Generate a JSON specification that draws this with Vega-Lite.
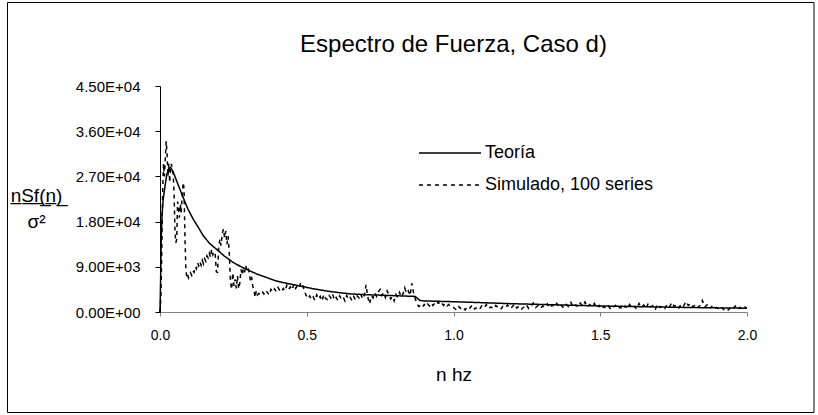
{
  "$schema": "https://vega.github.io/schema/vega-lite/v6.json",
  "width": 587,
  "height": 226,
  "autosize": {"type": "none"},
  "padding": {"left": 160, "top": 86, "right": 71, "bottom": 103},
  "background": "white",
  "config": {"font": "Liberation Sans", "view": {"stroke": null}},
  "title": {"text": "Espectro de Fuerza, Caso d)", "fontSize": 24, "fontWeight": "normal", "anchor": "middle", "frame": "group", "color": "black", "offset": 0, "baseline": "alphabetic", "dy": 74},
  "layer": [
    {
      "data": {"values": [
        {"s":"T","n":0,"v":0},{"s":"T","n":0.002,"v":6000},{"s":"T","n":0.004,"v":14000},{"s":"T","n":0.007,"v":19500},{"s":"T","n":0.011,"v":22500},{"s":"T","n":0.017,"v":25000},{"s":"T","n":0.023,"v":27300},{"s":"T","n":0.03,"v":28600},{"s":"T","n":0.036,"v":28800},{"s":"T","n":0.045,"v":27900},{"s":"T","n":0.06,"v":25600},{"s":"T","n":0.079,"v":22800},{"s":"T","n":0.095,"v":20500},{"s":"T","n":0.114,"v":18400},{"s":"T","n":0.13,"v":16900},{"s":"T","n":0.148,"v":15130},{"s":"T","n":0.17,"v":13600},{"s":"T","n":0.193,"v":12480},{"s":"T","n":0.22,"v":11100},{"s":"T","n":0.25,"v":9840},{"s":"T","n":0.28,"v":8900},{"s":"T","n":0.307,"v":8160},{"s":"T","n":0.335,"v":7450},{"s":"T","n":0.364,"v":6850},{"s":"T","n":0.39,"v":6300},{"s":"T","n":0.42,"v":5850},{"s":"T","n":0.45,"v":5500},{"s":"T","n":0.477,"v":5180},{"s":"T","n":0.52,"v":4650},{"s":"T","n":0.568,"v":4180},{"s":"T","n":0.61,"v":3850},{"s":"T","n":0.65,"v":3600},{"s":"T","n":0.7,"v":3450},{"s":"T","n":0.75,"v":3350},{"s":"T","n":0.8,"v":3250},{"s":"T","n":0.87,"v":3100},{"s":"T","n":0.885,"v":2300},{"s":"T","n":0.9,"v":2200},{"s":"T","n":1.0,"v":2050},{"s":"T","n":1.1,"v":1850},{"s":"T","n":1.2,"v":1650},{"s":"T","n":1.3,"v":1500},{"s":"T","n":1.4,"v":1350},{"s":"T","n":1.5,"v":1200},{"s":"T","n":1.6,"v":1100},{"s":"T","n":1.7,"v":1000},{"s":"T","n":1.8,"v":900},{"s":"T","n":1.9,"v":820},{"s":"T","n":2.0,"v":750},
        {"s":"S","n":0,"v":0},{"s":"S","n":0.003,"v":3000},{"s":"S","n":0.006,"v":12000},{"s":"S","n":0.009,"v":24000},{"s":"S","n":0.012,"v":29500},{"s":"S","n":0.015,"v":27000},{"s":"S","n":0.018,"v":30500},{"s":"S","n":0.021,"v":34000},{"s":"S","n":0.024,"v":31700},{"s":"S","n":0.027,"v":27000},{"s":"S","n":0.03,"v":29500},{"s":"S","n":0.033,"v":25800},{"s":"S","n":0.036,"v":28800},{"s":"S","n":0.039,"v":29500},{"s":"S","n":0.042,"v":28000},{"s":"S","n":0.045,"v":27500},{"s":"S","n":0.048,"v":23500},{"s":"S","n":0.051,"v":16000},{"s":"S","n":0.054,"v":13800},{"s":"S","n":0.057,"v":14500},{"s":"S","n":0.06,"v":22000},{"s":"S","n":0.063,"v":20500},{"s":"S","n":0.066,"v":18800},{"s":"S","n":0.069,"v":21500},{"s":"S","n":0.072,"v":19800},{"s":"S","n":0.075,"v":22500},{"s":"S","n":0.079,"v":25800},{"s":"S","n":0.082,"v":24500},{"s":"S","n":0.085,"v":15000},{"s":"S","n":0.088,"v":8800},{"s":"S","n":0.091,"v":7000},{"s":"S","n":0.094,"v":7500},{"s":"S","n":0.097,"v":6800},{"s":"S","n":0.1,"v":7200},{"s":"S","n":0.104,"v":7800},{"s":"S","n":0.108,"v":7300},{"s":"S","n":0.112,"v":8200},{"s":"S","n":0.116,"v":7900},{"s":"S","n":0.12,"v":9000},{"s":"S","n":0.124,"v":8600},{"s":"S","n":0.128,"v":9800},{"s":"S","n":0.132,"v":9200},{"s":"S","n":0.136,"v":10000},{"s":"S","n":0.14,"v":9300},{"s":"S","n":0.144,"v":10300},{"s":"S","n":0.148,"v":9600},{"s":"S","n":0.152,"v":10600},{"s":"S","n":0.156,"v":10100},{"s":"S","n":0.16,"v":11200},{"s":"S","n":0.164,"v":10800},{"s":"S","n":0.168,"v":11700},{"s":"S","n":0.172,"v":10900},{"s":"S","n":0.176,"v":12500},{"s":"S","n":0.18,"v":11400},{"s":"S","n":0.184,"v":12000},{"s":"S","n":0.188,"v":11600},{"s":"S","n":0.192,"v":8000},{"s":"S","n":0.196,"v":7900},{"s":"S","n":0.2,"v":12800},{"s":"S","n":0.204,"v":14500},{"s":"S","n":0.208,"v":13200},{"s":"S","n":0.212,"v":15600},{"s":"S","n":0.216,"v":16500},{"s":"S","n":0.22,"v":14800},{"s":"S","n":0.224,"v":16100},{"s":"S","n":0.228,"v":13500},{"s":"S","n":0.232,"v":15100},{"s":"S","n":0.236,"v":11800},{"s":"S","n":0.24,"v":6000},{"s":"S","n":0.244,"v":4500},{"s":"S","n":0.248,"v":7800},{"s":"S","n":0.252,"v":5200},{"s":"S","n":0.256,"v":6500},{"s":"S","n":0.26,"v":4700},{"s":"S","n":0.264,"v":7200},{"s":"S","n":0.268,"v":4600},{"s":"S","n":0.272,"v":5800},{"s":"S","n":0.276,"v":8500},{"s":"S","n":0.28,"v":7400},{"s":"S","n":0.284,"v":8700},{"s":"S","n":0.288,"v":7900},{"s":"S","n":0.292,"v":9200},{"s":"S","n":0.296,"v":8300},{"s":"S","n":0.3,"v":8800},{"s":"S","n":0.304,"v":7800},{"s":"S","n":0.308,"v":6200},{"s":"S","n":0.312,"v":7000},{"s":"S","n":0.316,"v":5200},{"s":"S","n":0.32,"v":4400},{"s":"S","n":0.324,"v":2900},{"s":"S","n":0.328,"v":4200},{"s":"S","n":0.332,"v":3400},
        {"s":"S","n":0.336,"v":3700},{"s":"S","n":0.342,"v":3500},{"s":"S","n":0.348,"v":4100},{"s":"S","n":0.354,"v":3600},{"s":"S","n":0.36,"v":4300},{"s":"S","n":0.366,"v":3900},{"s":"S","n":0.372,"v":3400},{"s":"S","n":0.378,"v":4500},{"s":"S","n":0.384,"v":4000},{"s":"S","n":0.39,"v":4600},{"s":"S","n":0.396,"v":4100},{"s":"S","n":0.402,"v":4900},{"s":"S","n":0.408,"v":4300},{"s":"S","n":0.414,"v":4000},{"s":"S","n":0.42,"v":4700},{"s":"S","n":0.426,"v":4200},{"s":"S","n":0.432,"v":5300},{"s":"S","n":0.438,"v":4500},{"s":"S","n":0.444,"v":5000},{"s":"S","n":0.45,"v":4400},{"s":"S","n":0.456,"v":5600},{"s":"S","n":0.462,"v":4700},{"s":"S","n":0.468,"v":5200},{"s":"S","n":0.474,"v":4800},{"s":"S","n":0.48,"v":5900},{"s":"S","n":0.486,"v":5400},{"s":"S","n":0.492,"v":4200},{"s":"S","n":0.498,"v":3300},{"s":"S","n":0.504,"v":2700},{"s":"S","n":0.51,"v":3200},{"s":"S","n":0.516,"v":2500},{"s":"S","n":0.522,"v":3000},{"s":"S","n":0.528,"v":2300},{"s":"S","n":0.534,"v":3400},{"s":"S","n":0.54,"v":2600},{"s":"S","n":0.546,"v":3100},{"s":"S","n":0.552,"v":2200},{"s":"S","n":0.558,"v":3500},{"s":"S","n":0.564,"v":2700},{"s":"S","n":0.57,"v":2500},{"s":"S","n":0.576,"v":3300},{"s":"S","n":0.582,"v":2800},{"s":"S","n":0.588,"v":3600},{"s":"S","n":0.594,"v":2400},{"s":"S","n":0.6,"v":2900},{"s":"S","n":0.606,"v":2300},{"s":"S","n":0.612,"v":3200},{"s":"S","n":0.618,"v":2600},{"s":"S","n":0.624,"v":3000},{"s":"S","n":0.63,"v":2200},{"s":"S","n":0.636,"v":3300},{"s":"S","n":0.642,"v":2500},{"s":"S","n":0.648,"v":2900},{"s":"S","n":0.654,"v":2300},
        {"s":"S","n":0.66,"v":3100},{"s":"S","n":0.666,"v":2400},{"s":"S","n":0.672,"v":3200},{"s":"S","n":0.678,"v":2800},{"s":"S","n":0.684,"v":3600},{"s":"S","n":0.69,"v":2600},{"s":"S","n":0.696,"v":3300},{"s":"S","n":0.702,"v":5400},{"s":"S","n":0.708,"v":3000},{"s":"S","n":0.714,"v":1600},{"s":"S","n":0.72,"v":3200},{"s":"S","n":0.726,"v":2800},{"s":"S","n":0.732,"v":3800},{"s":"S","n":0.738,"v":3100},{"s":"S","n":0.744,"v":4000},{"s":"S","n":0.75,"v":4500},{"s":"S","n":0.756,"v":3300},{"s":"S","n":0.762,"v":3900},{"s":"S","n":0.768,"v":2900},{"s":"S","n":0.774,"v":4200},{"s":"S","n":0.78,"v":3400},{"s":"S","n":0.786,"v":2600},{"s":"S","n":0.792,"v":3100},{"s":"S","n":0.798,"v":2200},{"s":"S","n":0.804,"v":3500},{"s":"S","n":0.81,"v":2900},{"s":"S","n":0.816,"v":3900},{"s":"S","n":0.822,"v":3000},{"s":"S","n":0.828,"v":3600},{"s":"S","n":0.834,"v":4800},{"s":"S","n":0.84,"v":3700},{"s":"S","n":0.846,"v":4200},{"s":"S","n":0.852,"v":3300},{"s":"S","n":0.858,"v":5700},{"s":"S","n":0.864,"v":3800},{"s":"S","n":0.87,"v":2600},{"s":"S","n":0.876,"v":1600},{"s":"S","n":0.882,"v":1100},{"s":"S","n":0.888,"v":1300},{"s":"S","n":0.894,"v":900},{"s":"S","n":0.9,"v":1500},{"s":"S","n":0.906,"v":1100},{"s":"S","n":0.912,"v":1600},{"s":"S","n":0.918,"v":1200},{"s":"S","n":0.924,"v":1800},{"s":"S","n":0.93,"v":1300},{"s":"S","n":0.936,"v":1700},{"s":"S","n":0.942,"v":1400},{"s":"S","n":0.948,"v":2000},{"s":"S","n":0.954,"v":1500},{"s":"S","n":0.96,"v":1800},{"s":"S","n":0.966,"v":1300},{"s":"S","n":0.972,"v":1700},{"s":"S","n":0.978,"v":1200},{"s":"S","n":0.984,"v":1500},{"s":"S","n":0.99,"v":1000},
        {"s":"S","n":1.0,"v":900},{"s":"S","n":1.008,"v":500},{"s":"S","n":1.016,"v":1200},{"s":"S","n":1.024,"v":700},{"s":"S","n":1.032,"v":1000},{"s":"S","n":1.04,"v":400},{"s":"S","n":1.048,"v":1100},{"s":"S","n":1.056,"v":800},{"s":"S","n":1.064,"v":1400},{"s":"S","n":1.072,"v":600},{"s":"S","n":1.08,"v":900},{"s":"S","n":1.088,"v":500},{"s":"S","n":1.096,"v":1200},{"s":"S","n":1.104,"v":800},{"s":"S","n":1.112,"v":1500},{"s":"S","n":1.12,"v":700},{"s":"S","n":1.128,"v":1000},{"s":"S","n":1.136,"v":600},{"s":"S","n":1.144,"v":1300},{"s":"S","n":1.152,"v":900},{"s":"S","n":1.16,"v":500},{"s":"S","n":1.168,"v":1100},{"s":"S","n":1.176,"v":800},{"s":"S","n":1.184,"v":1400},{"s":"S","n":1.192,"v":700},{"s":"S","n":1.2,"v":1000},{"s":"S","n":1.208,"v":1600},{"s":"S","n":1.216,"v":800},{"s":"S","n":1.224,"v":1200},{"s":"S","n":1.232,"v":600},{"s":"S","n":1.24,"v":1000},{"s":"S","n":1.248,"v":1500},{"s":"S","n":1.256,"v":700},{"s":"S","n":1.264,"v":1100},{"s":"S","n":1.272,"v":1800},{"s":"S","n":1.28,"v":900},{"s":"S","n":1.288,"v":1300},{"s":"S","n":1.296,"v":700},{"s":"S","n":1.304,"v":1200},{"s":"S","n":1.312,"v":900},{"s":"S","n":1.32,"v":1600},{"s":"S","n":1.328,"v":800},{"s":"S","n":1.336,"v":1400},{"s":"S","n":1.344,"v":1000},{"s":"S","n":1.352,"v":1700},{"s":"S","n":1.36,"v":900},{"s":"S","n":1.368,"v":1300},{"s":"S","n":1.376,"v":800},{"s":"S","n":1.384,"v":1500},{"s":"S","n":1.392,"v":1100},{"s":"S","n":1.4,"v":1900},{"s":"S","n":1.408,"v":900},{"s":"S","n":1.416,"v":1400},{"s":"S","n":1.424,"v":1000},{"s":"S","n":1.432,"v":1800},{"s":"S","n":1.44,"v":1200},{"s":"S","n":1.448,"v":2000},{"s":"S","n":1.456,"v":1000},{"s":"S","n":1.464,"v":1500},{"s":"S","n":1.472,"v":1100},{"s":"S","n":1.48,"v":1700},{"s":"S","n":1.488,"v":800},{"s":"S","n":1.496,"v":1300},
        {"s":"S","n":1.504,"v":600},{"s":"S","n":1.512,"v":1100},{"s":"S","n":1.52,"v":700},{"s":"S","n":1.528,"v":1200},{"s":"S","n":1.536,"v":500},{"s":"S","n":1.544,"v":900},{"s":"S","n":1.552,"v":1300},{"s":"S","n":1.56,"v":600},{"s":"S","n":1.568,"v":1000},{"s":"S","n":1.576,"v":500},{"s":"S","n":1.584,"v":1200},{"s":"S","n":1.592,"v":700},{"s":"S","n":1.6,"v":1500},{"s":"S","n":1.608,"v":800},{"s":"S","n":1.616,"v":1100},{"s":"S","n":1.624,"v":600},{"s":"S","n":1.632,"v":1700},{"s":"S","n":1.64,"v":900},{"s":"S","n":1.648,"v":1400},{"s":"S","n":1.656,"v":700},{"s":"S","n":1.664,"v":1800},{"s":"S","n":1.672,"v":1000},{"s":"S","n":1.68,"v":1300},{"s":"S","n":1.688,"v":600},{"s":"S","n":1.696,"v":1600},{"s":"S","n":1.704,"v":900},{"s":"S","n":1.712,"v":1200},{"s":"S","n":1.72,"v":700},{"s":"S","n":1.728,"v":1500},{"s":"S","n":1.736,"v":1000},{"s":"S","n":1.744,"v":1900},{"s":"S","n":1.752,"v":1100},{"s":"S","n":1.76,"v":1400},{"s":"S","n":1.768,"v":800},{"s":"S","n":1.776,"v":1600},{"s":"S","n":1.784,"v":1200},{"s":"S","n":1.792,"v":2100},{"s":"S","n":1.8,"v":1300},{"s":"S","n":1.808,"v":1700},{"s":"S","n":1.816,"v":1000},{"s":"S","n":1.824,"v":1500},{"s":"S","n":1.832,"v":900},{"s":"S","n":1.84,"v":1300},{"s":"S","n":1.848,"v":2300},{"s":"S","n":1.856,"v":1000},{"s":"S","n":1.864,"v":1400},{"s":"S","n":1.872,"v":700},{"s":"S","n":1.88,"v":1100},{"s":"S","n":1.888,"v":500},{"s":"S","n":1.896,"v":900},{"s":"S","n":1.904,"v":600},{"s":"S","n":1.912,"v":1000},{"s":"S","n":1.92,"v":500},{"s":"S","n":1.928,"v":800},{"s":"S","n":1.936,"v":400},{"s":"S","n":1.944,"v":900},{"s":"S","n":1.952,"v":600},{"s":"S","n":1.96,"v":1200},{"s":"S","n":1.968,"v":500},{"s":"S","n":1.976,"v":900},{"s":"S","n":1.984,"v":600},{"s":"S","n":1.992,"v":1000},{"s":"S","n":2.0,"v":700}
      ]},
      "mark": {"type": "line", "strokeWidth": 1.5, "clip": false},
      "encoding": {
        "x": {"field": "n", "type": "quantitative",
          "scale": {"domain": [0, 2], "nice": false, "zero": false},
          "axis": {"values": [0, 0.5, 1, 1.5, 2], "format": ".1f", "grid": false, "labelFlush": false, "domainColor": "#808080", "tickColor": "#808080", "tickSize": 4, "labelFontSize": 14, "labelColor": "black", "labelPadding": 12, "title": "n hz", "titleFontSize": 19, "titleFontWeight": "normal", "titleColor": "black", "titleBaseline": "alphabetic", "titleY": 68}},
        "y": {"field": "v", "type": "quantitative",
          "scale": {"domain": [0, 45000], "nice": false},
          "axis": {"values": [0, 9000, 18000, 27000, 36000, 45000], "labelExpr": "replace(format(datum.value, '.2e'), 'e+', 'E+0')", "grid": false, "labelFlush": false, "domainColor": "black", "tickColor": "black", "tickSize": 5, "labelFontSize": 15, "labelColor": "black", "labelPadding": 15,
            "title": ["n\u0332S\u0332f\u0332(\u0332n\u0332)\u0332", "σ²"], "titleAngle": 0, "titleAlign": "center", "titleBaseline": "alphabetic", "titleX": -124, "titleY": 115, "titleLineHeight": 26, "titleFontSize": 19, "titleFontWeight": "normal", "titleColor": "black"}},
        "color": {"field": "s", "type": "nominal",
          "scale": {"domain": ["T", "S"], "range": ["black", "black"]},
          "legend": {"orient": "none", "legendX": 258, "legendY": 51, "title": null, "symbolType": "stroke", "symbolSize": 3844, "symbolStrokeWidth": 1.5, "labelFontSize": 18, "labelColor": "black", "labelOffset": 3, "labelLimit": 0, "rowPadding": 0, "clipHeight": 32, "padding": 0,
            "labelExpr": "datum.label == 'T' ? 'Teoría' : 'Simulado, 100 series'"}},
        "strokeDash": {"field": "s", "type": "nominal",
          "scale": {"domain": ["T", "S"], "range": [[1, 0], [4, 4]]},
          "legend": {"orient": "none", "legendX": 258, "legendY": 51, "title": null, "symbolType": "stroke", "symbolSize": 3844, "symbolStrokeWidth": 1.5, "labelFontSize": 18, "labelColor": "black", "labelOffset": 3, "labelLimit": 0, "rowPadding": 0, "clipHeight": 32, "padding": 0,
            "labelExpr": "datum.label == 'T' ? 'Teoría' : 'Simulado, 100 series'"}}
      }
    },
    {
      "data": {"values": [{"frame": "borde"}]},
      "mark": {"type": "rect", "filled": false, "stroke": "black", "strokeWidth": 1, "clip": false},
      "encoding": {
        "x": {"datum": -0.5196, "type": "quantitative"},
        "x2": {"datum": 2.2283},
        "y": {"datum": 61630, "type": "quantitative"},
        "y2": {"datum": -20010}
      }
    }
  ]
}
